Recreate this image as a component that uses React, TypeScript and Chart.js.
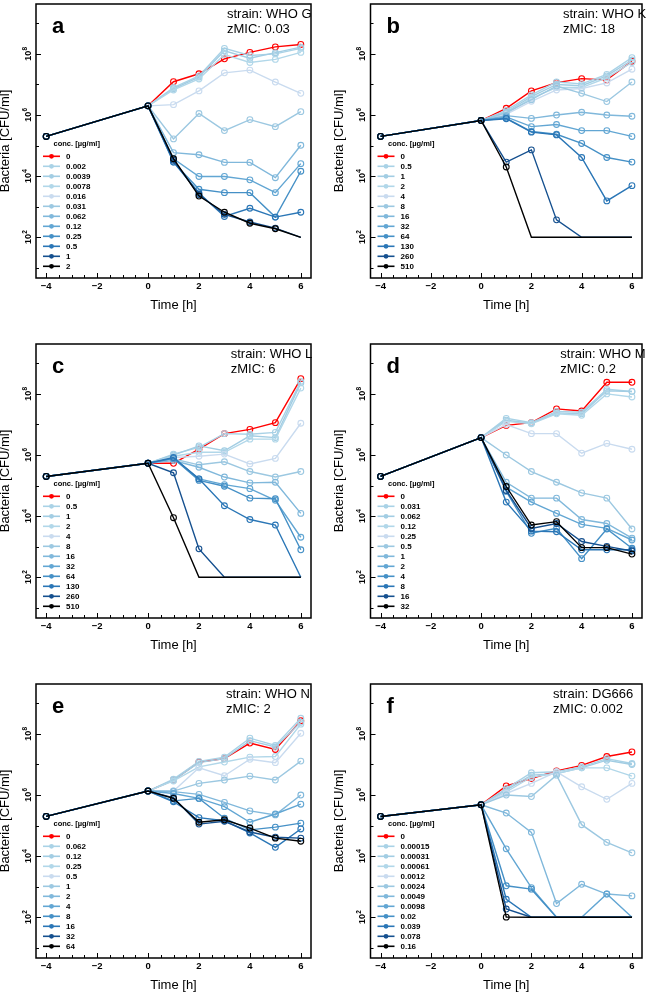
import React, { useEffect, useRef } from 'react';
import { Chart, registerables } from 'chart.js';

Chart.register(...registerables);

// ---------- shared ----------
const timeH = [-4, 0, 1, 2, 3, 4, 5, 6];
const xTickLabels = [-4, -2, 0, 2, 4, 6];
const yTickExponents = [2, 4, 6, 8];
const detectionLimit = 100;
const seriesColors = [
  '#ff0000', '#a9d2e6', '#a2cde3', '#b1d7e9', '#c9dbef', '#9cc8e1',
  '#80b8db', '#62a6d3', '#4590c6', '#2a76b6', '#15508f', '#000000',
];

// ---------- panel a ----------
const strainA = 'WHO G';
const zmicA = '0.03';
const concA = ['0', '0.002', '0.0039', '0.0078', '0.016', '0.031', '0.062', '0.12', '0.25', '0.5', '1', '2'];
const inocA = [5.3, 6.3];
const log10CfuA = [
  [7.09, 7.35, 7.84, 8.05, 8.23, 8.31],
  [6.9, 7.28, 8.18, 7.95, 8.0, 8.18],
  [6.86, 7.24, 8.1, 7.86, 8.04, 8.22],
  [6.82, 7.18, 7.98, 7.72, 7.82, 8.05],
  [6.34, 6.79, 7.38, 7.47, 7.08, 6.71],
  [5.22, 6.05, 5.49, 5.85, 5.62, 6.11],
  [4.77, 4.7, 4.45, 4.45, 3.95, 5.01],
  [4.57, 3.99, 3.99, 3.88, 3.46, 4.41],
  [4.46, 3.57, 3.46, 3.46, 2.66, 4.16],
  [4.46, 3.45, 2.68, 2.95, 2.66, 2.82],
  [4.52, 3.4, 2.75, 2.5, 2.3, 2.0],
  [4.57, 3.35, 2.82, 2.46, 2.28, 2.0],
];

// ---------- panel b ----------
const strainB = 'WHO K';
const zmicB = '18';
const concB = ['0', '0.5', '1', '2', '4', '8', '16', '32', '64', '130', '260', '510'];
const inocB = [5.3, 5.82];
const log10CfuB = [
  [6.22, 6.79, 7.06, 7.19, 7.15, 7.76],
  [6.15, 6.66, 7.08, 7.02, 7.33, 7.88],
  [6.1, 6.6, 7.0, 6.96, 7.28, 7.8],
  [6.05, 6.55, 6.9, 6.9, 7.22, 7.72],
  [6.02, 6.45, 6.82, 6.87, 7.05, 7.5],
  [6.08, 6.5, 6.95, 6.71, 6.44, 7.08],
  [5.98, 5.89, 6.0, 6.09, 6.0, 5.96],
  [5.94, 5.62, 5.69, 5.49, 5.49, 5.3],
  [5.9, 5.46, 5.37, 5.07, 4.61, 4.46],
  [5.88, 5.44, 5.35, 4.61, 3.19, 3.69],
  [4.46, 4.86, 2.57, 2.0, 2.0, 2.0],
  [4.3, 2.0, 2.0, 2.0, 2.0, 2.0],
];

// ---------- panel c ----------
const strainC = 'WHO L';
const zmicC = '6';
const concC = ['0', '0.5', '1', '2', '4', '8', '16', '32', '64', '130', '260', '510'];
const inocC = [5.3, 5.73];
const log10CfuC = [
  [5.73, 6.19, 6.7, 6.84, 7.06, 8.5],
  [6.03, 6.25, 6.7, 6.68, 6.74, 8.41],
  [6.0, 6.3, 6.14, 6.63, 6.57, 8.36],
  [5.96, 6.09, 6.09, 6.52, 6.52, 8.19],
  [5.92, 5.96, 6.03, 5.71, 5.89, 7.04],
  [5.87, 5.68, 5.78, 5.46, 5.28, 5.46],
  [5.82, 5.6, 5.28, 5.09, 5.11, 4.09],
  [5.89, 5.22, 5.03, 4.9, 4.52, 3.31],
  [5.89, 5.17, 4.98, 4.59, 4.57, 2.9],
  [5.92, 5.22, 4.34, 3.89, 3.71, 2.0],
  [5.42, 2.93, 2.0, 2.0, 2.0, 2.0],
  [3.95, 2.0, 2.0, 2.0, 2.0, 2.0],
];

// ---------- panel d ----------
const strainD = 'WHO M';
const zmicD = '0.2';
const concD = ['0', '0.031', '0.062', '0.12', '0.25', '0.5', '1', '2', '4', '8', '16', '32'];
const inocD = [5.3, 6.57];
const log10CfuD = [
  [6.97, 7.06, 7.51, 7.44, 8.38, 8.38],
  [7.2, 7.06, 7.43, 7.4, 8.15, 8.08],
  [7.14, 7.04, 7.38, 7.35, 8.1, 8.08],
  [7.1, 7.02, 7.35, 7.3, 8.0, 7.9],
  [7.0, 6.7, 6.7, 6.06, 6.38, 6.19],
  [6.0, 5.46, 5.11, 4.76, 4.59, 3.58],
  [5.11, 4.59, 4.59, 3.89, 3.76, 3.28],
  [4.95, 4.46, 4.09, 3.73, 3.6, 3.22],
  [4.81, 3.44, 3.6, 2.61, 3.58, 2.95],
  [4.46, 3.51, 3.49, 2.9, 2.9, 2.9],
  [4.84, 3.6, 3.76, 3.17, 3.01, 2.86],
  [4.97, 3.71, 3.82, 2.97, 2.97, 2.76],
];

// ---------- panel e ----------
const strainE = 'WHO N';
const zmicE = '2';
const concE = ['0', '0.062', '0.12', '0.25', '0.5', '1', '2', '4', '8', '16', '32', '64'];
const inocE = [5.3, 6.13];
const log10CfuE = [
  [6.49, 7.08, 7.19, 7.7, 7.49, 8.43],
  [6.52, 7.1, 7.24, 7.86, 7.62, 8.51],
  [6.49, 7.06, 7.19, 7.78, 7.57, 8.38],
  [6.46, 6.92, 7.08, 7.24, 7.26, 8.32],
  [6.13, 6.89, 6.63, 7.17, 7.06, 8.02],
  [6.13, 6.38, 6.49, 6.62, 6.49, 7.11],
  [6.11, 6.02, 5.76, 5.48, 5.35, 6.0],
  [6.05, 5.89, 5.62, 5.11, 5.38, 5.7],
  [5.81, 5.89, 5.24, 4.86, 4.95, 5.08],
  [5.78, 5.26, 5.16, 4.76, 4.29, 4.89],
  [5.91, 5.05, 5.14, 4.79, 4.62, 4.59],
  [5.89, 5.11, 5.19, 4.92, 4.59, 4.49],
];

// ---------- panel f ----------
const strainF = 'DG666';
const zmicF = '0.002';
const concF = ['0', '0.00015', '0.00031', '0.00061', '0.0012', '0.0024', '0.0049', '0.0098', '0.02', '0.039', '0.078', '0.16'];
const inocF = [5.3, 5.68];
const log10CfuF = [
  [6.3, 6.54, 6.79, 6.97, 7.26, 7.41],
  [6.21, 6.73, 6.76, 6.92, 7.19, 7.03],
  [6.16, 6.65, 6.7, 6.89, 7.14, 7.0],
  [6.1, 6.59, 6.7, 6.89, 6.89, 6.62],
  [6.05, 6.38, 6.76, 6.27, 5.86, 6.38],
  [6.0, 5.95, 6.65, 5.03, 4.45, 4.11],
  [5.41, 4.78, 2.45, 3.08, 2.76, 2.7],
  [4.24, 2.97, 2.0, 2.0, 2.76, 2.0],
  [3.03, 2.92, 2.0, 2.0, 2.0, 2.0],
  [2.59, 2.0, 2.0, 2.0, 2.0, 2.0],
  [2.27, 2.0, 2.0, 2.0, 2.0, 2.0],
  [2.005, 2.0, 2.0, 2.0, 2.0, 2.0],
];

// ---------- layout (positions / sizes only) ----------
const FONT = '"Liberation Sans", Arial, Helvetica, sans-serif';
const panelLetters = ['a', 'b', 'c', 'd', 'e', 'f'];
const strainTextDx = [191, 192.5, 194.7, 189.8, 190, 182.5];
const X_MIN = -4.4;
const X_MAX = 6.4;
const Y_MIN = Math.pow(10, 0.668);
const Y_MAX = Math.pow(10, 9.633);

const panelData = [
  { strain: strainA, zmic: zmicA, conc: concA, inoc: inocA, values: log10CfuA },
  { strain: strainB, zmic: zmicB, conc: concB, inoc: inocB, values: log10CfuB },
  { strain: strainC, zmic: zmicC, conc: concC, inoc: inocC, values: log10CfuC },
  { strain: strainD, zmic: zmicD, conc: concD, inoc: inocD, values: log10CfuD },
  { strain: strainE, zmic: zmicE, conc: concE, inoc: inocE, values: log10CfuE },
  { strain: strainF, zmic: zmicF, conc: concF, inoc: inocF, values: log10CfuF },
];

function supDraw(ctx: any, base: string, exp: string, cx: number, cy: number) {
  ctx.font = 'bold 9px ' + FONT;
  const wb = ctx.measureText(base).width;
  ctx.font = 'bold 6.5px ' + FONT;
  const we = ctx.measureText(exp).width;
  const start = cx - (wb + we) / 2;
  ctx.textAlign = 'left';
  ctx.textBaseline = 'alphabetic';
  ctx.font = 'bold 9px ' + FONT;
  ctx.fillText(base, start, cy);
  ctx.font = 'bold 6.5px ' + FONT;
  ctx.fillText(exp, start + wb + 0.3, cy - 4);
}

function makeDecor(idx: number) {
  const pd = panelData[idx];
  return {
    id: 'decor' + idx,
    afterDatasetsDraw(chart: any) {
      const { ctx, chartArea: a } = chart;
      const xs = chart.scales.x;
      const ys = chart.scales.y;
      ctx.save();
      ctx.strokeStyle = '#000';
      ctx.fillStyle = '#000';

      // x ticks (inward)
      ctx.lineWidth = 1;
      for (let i = 0; i <= 20; i++) {
        const t = -4 + i * 0.5;
        const px = Math.round(xs.getPixelForValue(t)) + 0.5;
        const len = i % 4 === 0 ? 5 : 3;
        ctx.beginPath();
        ctx.moveTo(px, a.bottom);
        ctx.lineTo(px, a.bottom - len);
        ctx.stroke();
      }
      // y ticks (inward)
      for (let k = 1; k <= 9; k++) {
        const py = Math.round(ys.getPixelForValue(Math.pow(10, k))) + 0.5;
        const len = k % 2 === 0 ? 5 : 3;
        ctx.beginPath();
        ctx.moveTo(a.left, py);
        ctx.lineTo(a.left + len, py);
        ctx.stroke();
      }
      // frame
      ctx.lineWidth = 1.5;
      ctx.strokeRect(a.left, a.top, a.right - a.left, a.bottom - a.top);

      // x tick labels
      ctx.font = 'bold 9.5px ' + FONT;
      ctx.textAlign = 'center';
      ctx.textBaseline = 'middle';
      xTickLabels.forEach((t) => {
        const s = t < 0 ? '\u2212' + Math.abs(t) : String(t);
        ctx.fillText(s, xs.getPixelForValue(t), a.bottom + 8);
      });
      // x title
      ctx.font = '13px ' + FONT;
      ctx.textBaseline = 'alphabetic';
      ctx.fillText('Time [h]', (a.left + a.right) / 2, a.bottom + 31);

      // y tick labels (rotated)
      yTickExponents.forEach((k) => {
        const py = ys.getPixelForValue(Math.pow(10, k));
        ctx.save();
        ctx.translate(a.left - 5.5, py);
        ctx.rotate(-Math.PI / 2);
        supDraw(ctx, '10', String(k), 0, 0);
        ctx.restore();
      });
      // y title
      ctx.save();
      ctx.translate(a.left - 27.5, (a.top + a.bottom) / 2);
      ctx.rotate(-Math.PI / 2);
      ctx.font = '13px ' + FONT;
      ctx.textAlign = 'center';
      ctx.textBaseline = 'alphabetic';
      ctx.fillText('Bacteria [CFU/ml]', 0, 0);
      ctx.restore();

      // panel letter
      ctx.textAlign = 'left';
      ctx.textBaseline = 'alphabetic';
      ctx.font = 'bold 22px ' + FONT;
      ctx.fillText(panelLetters[idx], a.left + 16, a.top + 29);
      // strain + zMIC
      ctx.font = '13px ' + FONT;
      ctx.fillText('strain: ' + pd.strain, a.left + strainTextDx[idx], a.top + 14);
      ctx.fillText('zMIC: ' + pd.zmic, a.left + strainTextDx[idx], a.top + 29);

      // legend
      ctx.font = 'bold 7.5px ' + FONT;
      ctx.textBaseline = 'middle';
      ctx.fillText('conc. [\u00b5g/ml]', a.left + 17.5, a.top + 140);
      pd.conc.forEach((c, i) => {
        const y = a.top + 152.3 + i * 10;
        const col = seriesColors[i];
        ctx.strokeStyle = col;
        ctx.fillStyle = col;
        ctx.lineWidth = 1.6;
        ctx.beginPath();
        ctx.moveTo(a.left + 7, y);
        ctx.lineTo(a.left + 24, y);
        ctx.stroke();
        ctx.beginPath();
        ctx.arc(a.left + 15.5, y, 2.4, 0, Math.PI * 2);
        ctx.fill();
        ctx.fillStyle = '#000';
        ctx.font = 'bold 8px ' + FONT;
        ctx.fillText(c, a.left + 30, y + 0.5);
      });
      ctx.restore();
    },
  };
}

function Panel({ idx }: { idx: number }) {
  const ref = useRef<HTMLCanvasElement | null>(null);
  const col = idx % 2;
  const row = Math.floor(idx / 2);
  const left = col * 323;
  const top = row * 340;
  const width = 323;
  const height = row < 2 ? 340 : 313;
  const padLeft = col === 0 ? 36 : 47.5;
  const padRight = col === 0 ? 12 : 0.5;

  useEffect(() => {
    const pd = panelData[idx];
    const n = pd.conc.length;
    const datasets = pd.conc.map((c, i) => {
      const logs = [...pd.inoc, ...pd.values[i]];
      return {
        label: c,
        data: timeH.map((t, j) => ({ x: t, y: Math.pow(10, logs[j]) })),
        borderColor: seriesColors[i],
        backgroundColor: 'rgba(0,0,0,0)',
        pointBorderColor: seriesColors[i],
        pointBackgroundColor: 'rgba(0,0,0,0)',
        borderWidth: 1.4,
        pointBorderWidth: 1.1,
        pointRadius: (ctx: any) => (ctx.raw && ctx.raw.y <= detectionLimit * 1.0001 ? 0 : 2.9),
        pointHoverRadius: 0,
        tension: 0,
        fill: false,
        order: n - i,
      };
    });
    const chart = new Chart(ref.current as HTMLCanvasElement, {
      type: 'line',
      data: { datasets },
      options: {
        animation: false,
        responsive: false,
        devicePixelRatio: 1,
        events: [],
        layout: { padding: { left: padLeft, right: padRight, top: 1, bottom: height - 278 } },
        scales: {
          x: { type: 'linear', min: X_MIN, max: X_MAX, bounds: 'data', display: false },
          y: { type: 'logarithmic', min: Y_MIN, max: Y_MAX, bounds: 'data', display: false },
        },
        plugins: { legend: { display: false }, tooltip: { enabled: false } },
      } as any,
      plugins: [makeDecor(idx)],
    } as any);
    return () => chart.destroy();
  }, [idx]);

  return (
    <canvas
      ref={ref}
      width={width}
      height={height}
      style={{ position: 'absolute', left, top, width, height }}
    />
  );
}

export default function App() {
  return (
    <div style={{ position: 'absolute', left: 0, top: 0, width: 646, height: 993, background: '#fff' }}>
      {[0, 1, 2, 3, 4, 5].map((i) => (
        <Panel key={i} idx={i} />
      ))}
    </div>
  );
}
